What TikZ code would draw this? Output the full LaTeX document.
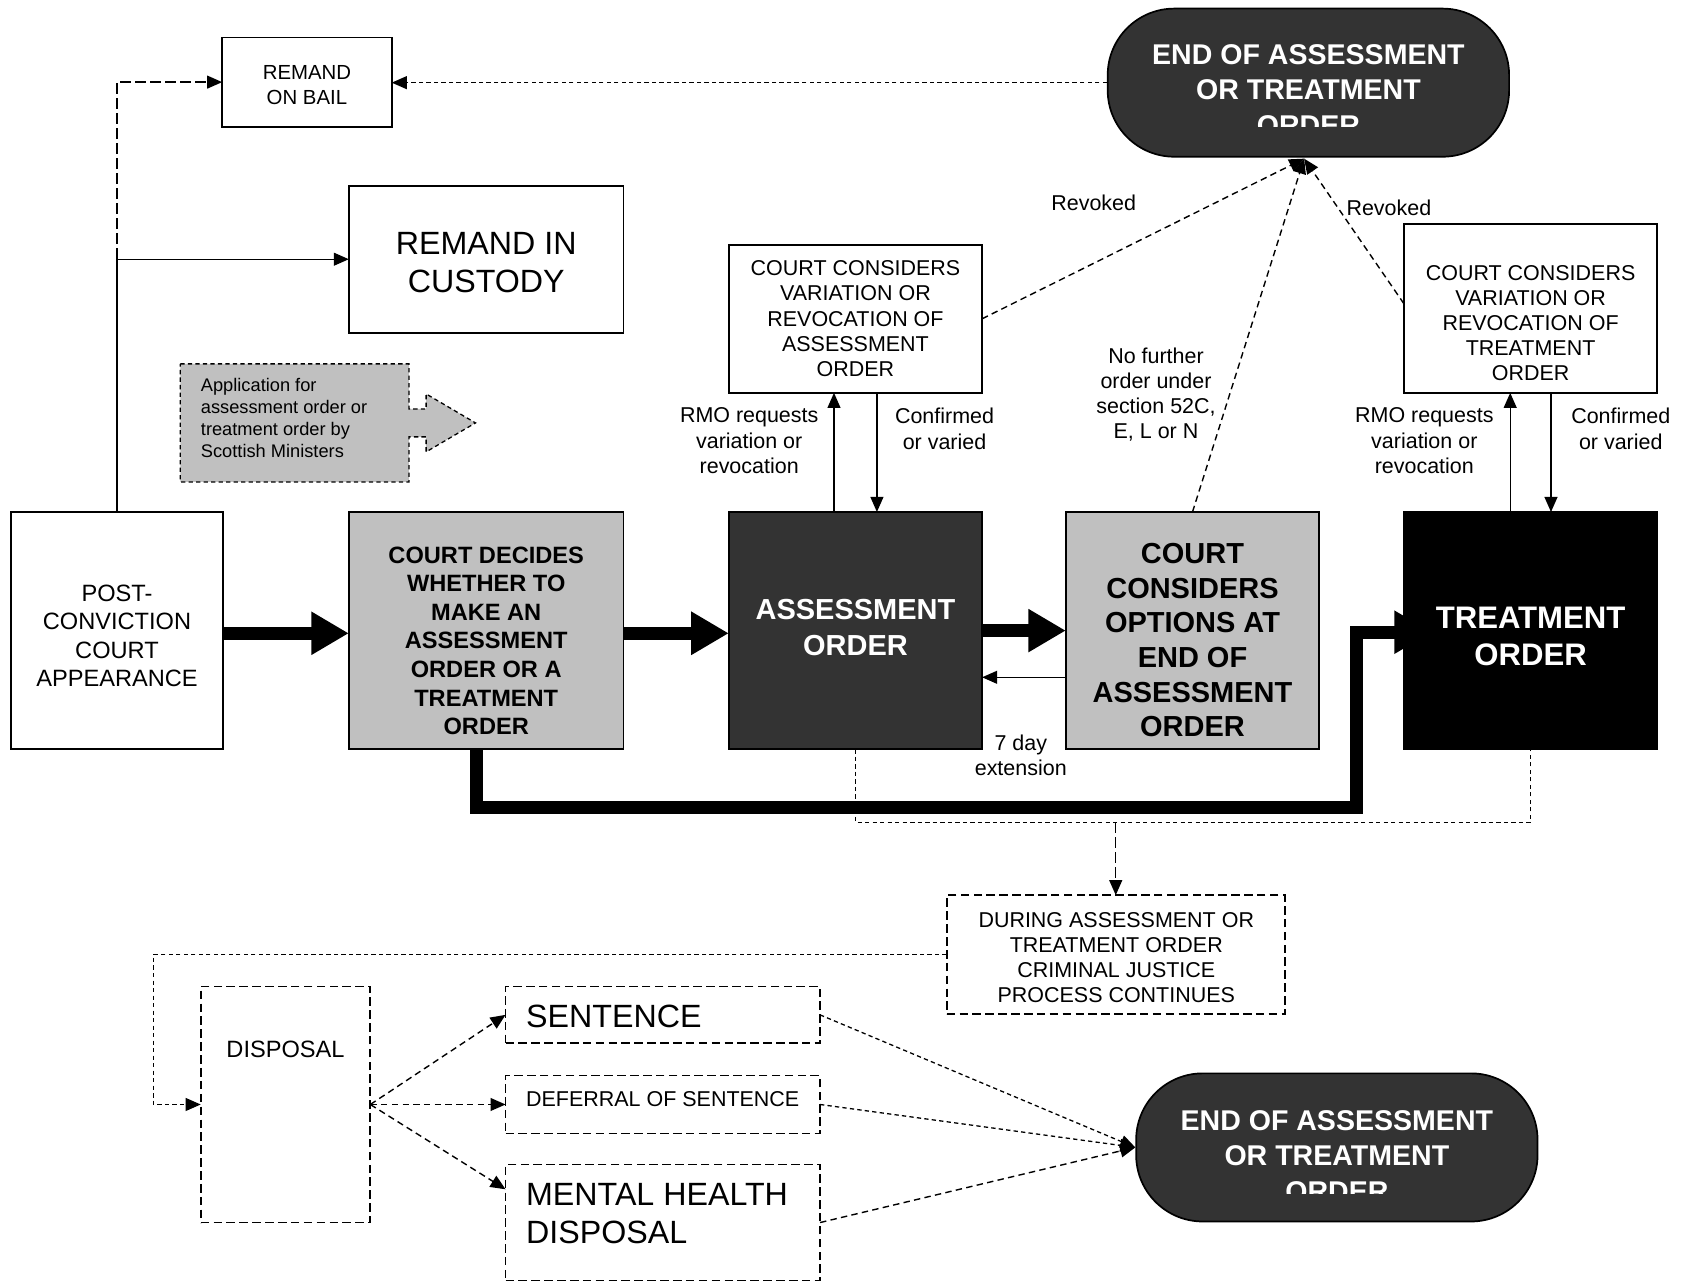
\documentclass[tikz,border=0pt]{standalone}
\usepackage{fontspec}
\setmainfont{Liberation Sans}
\usetikzlibrary{arrows.meta,calc}
\newcommand{\fz}[2]{\fontsize{#1}{#2}\selectfont}
\definecolor{lgray}{HTML}{C0C0C0}
\definecolor{dgray}{HTML}{333333}
\begin{document}
\begin{tikzpicture}[x=1pt,y=-1pt,
  box/.style={draw=black, line width=1.6pt, inner sep=0pt, outer sep=0pt},
  dbox/.style={box, dash pattern=on 8pt off 4pt},
  txt/.style={inner sep=0pt, align=center},
  lbl/.style={inner sep=0pt, align=center, font=\fz{20}{23.5}},
  tip/.style={-{Triangle[length=14pt,width=12pt]}},
  thn/.style={line width=1.3pt, tip},
  thk/.style={line width=12pt, -{Triangle[length=35pt,width=38pt]}},
  dsh/.style={line width=1.3pt, dash pattern=on 6pt off 4pt},
  fdsh/.style={line width=1.2pt, dash pattern=on 4pt off 3pt},
  ldsh/.style={line width=1.3pt, dash pattern=on 10pt off 4pt},
  endshape/.style={draw=black, line width=1.6pt, fill=dgray, rounded corners=62pt, inner sep=0pt, minimum width=374pt, minimum height=138pt}
]
\useasboundingbox (0,0) rectangle (1568,1195);

% ---------- boxes ----------
\node[box, minimum width=158pt, minimum height=83pt] (bail) at (286,76.5) {};
\node[txt, font=\fz{19}{23}] (bailt) at (286,79.5) {REMAND\\ON BAIL};

\node[box, minimum width=256pt, minimum height=137pt] (custody) at (453,241.5) {};
\node[txt, font=\fz{30}{35}] (custodyt) at (453,244.5) {REMAND IN\\CUSTODY};

\draw[fill=lgray, line width=1.2pt, dash pattern=on 4pt off 3pt]
  (168,339) -- (381,339) -- (381,381) -- (397,381) -- (397,367) -- (443,394)
  -- (397,421) -- (397,407) -- (381,407) -- (381,449) -- (168,449) -- cycle;
\node[inner sep=0pt, anchor=west, align=left, font=\fz{17}{20.5}] (appt) at (187,389.5)
  {Application for\\assessment order or\\treatment order by\\Scottish Ministers};

\node[box, minimum width=198pt, minimum height=221pt] (post) at (109,587.5) {};
\node[txt, font=\fz{22}{26.3}] (postt) at (109,592.5) {POST-\\CONVICTION\\COURT\\APPEARANCE};

\node[box, fill=lgray, minimum width=256pt, minimum height=221pt] (decide) at (453,587.5) {};
\node[txt, font=\fz{22}{26.6}\bfseries] (decidet) at (453,597) {COURT DECIDES\\WHETHER TO\\MAKE AN\\ASSESSMENT\\ORDER OR A\\TREATMENT\\ORDER};

\node[box, fill=dgray, minimum width=236pt, minimum height=221pt] (assess) at (797,587.5) {};
\node[txt, text=white, font=\fz{27}{33}\bfseries] (assesst) at (797,584.5) {ASSESSMENT\\ORDER};

\node[box, fill=lgray, minimum width=236pt, minimum height=221pt] (options) at (1111,587.5) {};
\node[txt, font=\fz{27}{32.2}\bfseries] (optionst) at (1111,596.5) {COURT\\CONSIDERS\\OPTIONS AT\\END OF\\ASSESSMENT\\ORDER};

\node[box, fill=black, minimum width=236pt, minimum height=221pt] (treat) at (1426,587.5) {};
\node[txt, text=white, font=\fz{29}{34}\bfseries] (treatt) at (1426,593) {TREATMENT\\ORDER};

\node[box, minimum width=236pt, minimum height=138pt] (varA) at (797,297) {};
\node[txt, font=\fz{20}{23.5}] (varAt) at (797,297) {COURT CONSIDERS\\VARIATION OR\\REVOCATION OF\\ASSESSMENT\\ORDER};

\node[box, minimum width=236pt, minimum height=157pt] (varT) at (1426,287.5) {};
\node[txt, font=\fz{20}{23.5}] (varTt) at (1426,301) {COURT CONSIDERS\\VARIATION OR\\REVOCATION OF\\TREATMENT\\ORDER};

\node[endshape] (end1) at (1219,77) {};
\begin{scope}
  \clip (1032,8) rectangle (1406,118);
  \node[txt, text=white, font=\fz{26.6}{33}\bfseries] (end1t) at (1219,84) {END OF ASSESSMENT\\OR TREATMENT\\ORDER};
\end{scope}

\node[endshape] (end2) at (1245.5,1069) {};
\begin{scope}
  \clip (1059,1000) rectangle (1432,1112);
  \node[txt, text=white, font=\fz{26.6}{33}\bfseries] (end2t) at (1245.5,1077) {END OF ASSESSMENT\\OR TREATMENT\\ORDER};
\end{scope}

\node[dbox, minimum width=315pt, minimum height=111pt] (during) at (1039.5,889.5) {};
\node[txt, font=\fz{20}{23.3}] (duringt) at (1040,892) {DURING ASSESSMENT OR\\TREATMENT ORDER\\CRIMINAL JUSTICE\\PROCESS CONTINUES};

\node[dbox, minimum width=158pt, minimum height=220pt] (disposal) at (266,1029) {};
\node[txt, font=\fz{22}{26}] (disposalt) at (266,978) {DISPOSAL};

\node[dbox, minimum width=293pt, minimum height=53pt] (sentence) at (617.5,945.5) {};
\node[txt, anchor=west, font=\fz{30}{35}] (sentencet) at (490,947) {SENTENCE};

\node[dbox, minimum width=293pt, minimum height=54pt] (deferral) at (617.5,1029) {};
\node[txt, anchor=west, font=\fz{20}{24}] (deferralt) at (490,1024) {DEFERRAL OF SENTENCE};

\node[dbox, minimum width=293pt, minimum height=108pt] (mental) at (617.5,1139) {};
\node[txt, anchor=west, align=left, font=\fz{30}{35}] (mentalt) at (490,1130.5) {MENTAL HEALTH\\DISPOSAL};

% ---------- labels ----------
\node[lbl] (rev1) at (1019,189) {Revoked};
\node[lbl] (rev2) at (1294,194) {Revoked};
\node[lbl] (nofurther) at (1077,367.5) {No further\\order under\\section 52C,\\E, L or N};
\begin{scope}
  \clip (600,370) rectangle (1560,441);
  \node[lbl] (rmo1) at (698,410.5) {RMO requests\\variation or\\revocation};
  \node[lbl] (rmo2) at (1327,410.5) {RMO requests\\variation or\\revocation};
\end{scope}
\node[lbl] (conf1) at (880,399.5) {Confirmed\\or varied};
\node[lbl] (conf2) at (1510,399.5) {Confirmed\\or varied};
\node[lbl] (ext) at (951,704) {7 day\\extension};

% ---------- connectors ----------
% main flow
\draw[thk] ($(post.east)+(0,2.5)$) -- ($(decide.west)+(0,2.5)$);
\draw[thk] ($(decide.east)+(0,2.5)$) -- ($(assess.west)+(0,2.5)$);
\draw[thk] (assess.east) -- (options.west);
\coordinate (k1) at (444,752);
\coordinate (k2) at (1264,752);
\draw[thk, line join=miter] (decide.south -| k1) -- (k1) -- (k2) -- ($(k2 |- treat.west)+(0,1.5)$) -- ($(treat.west)+(26,1.5)$);

% 7 day extension
\draw[thn] ($(options.west)+(0,43.5)$) -- ($(assess.east)+(0,43.5)$);

% variation loops
\draw[thn] ($(assess.north)+(-20,0)$) -- ($(varA.south)+(-20,0)$);
\draw[thn] ($(varA.south)+(20,0)$) -- ($(assess.north)+(20,0)$);
\draw[thn] ($(treat.north)+(-19,0)$) -- ($(varT.south)+(-19,0)$);
\draw[thn] ($(varT.south)+(19,0)$) -- ($(treat.north)+(19,0)$);

% to end of order (top)
\coordinate (e1) at ($(end1.south)+(-4,1)$);
\draw[dsh, tip] (varA.east) -- (e1);
\draw[dsh, tip] (options.north) -- (e1);
\draw[dsh, tip] ($(varT.west)+(0,-4.5)$) -- (e1);
\draw[fdsh, tip] (end1.west) -- (end1.west -| bail.east);

% remand branches
\coordinate (j1) at (post.north |- custody.west);
\draw[thn] (post.north) -- (j1) -- (custody.west);
\draw[ldsh, tip] (j1) -- (j1 |- bail.west) -- (bail.west);

% during order
\path (assess.south) ++(0,68) coordinate (c0);
\draw[fdsh] (assess.south) -- (c0) -| (treat.south);
\draw[ldsh, tip] (during.north |- c0) -- (during.north);

\coordinate (lx) at (143,0);
\draw[fdsh, tip] (during.west) -- (during.west -| lx) -- (disposal.west -| lx) -- (disposal.west);

% disposal options
\draw[dsh, tip] (disposal.east) -- (sentence.west);
\draw[dsh, tip] (disposal.east) -- (deferral.west);
\draw[dsh, tip] (disposal.east) -- ($(mental.west)+(0,-31)$);

\draw[fdsh, tip] (sentence.east) -- (end2.west);
\draw[fdsh, tip] (deferral.east) -- (end2.west);
\draw[dsh, tip] (mental.east) -- (end2.west);
\end{tikzpicture}
\end{document}
